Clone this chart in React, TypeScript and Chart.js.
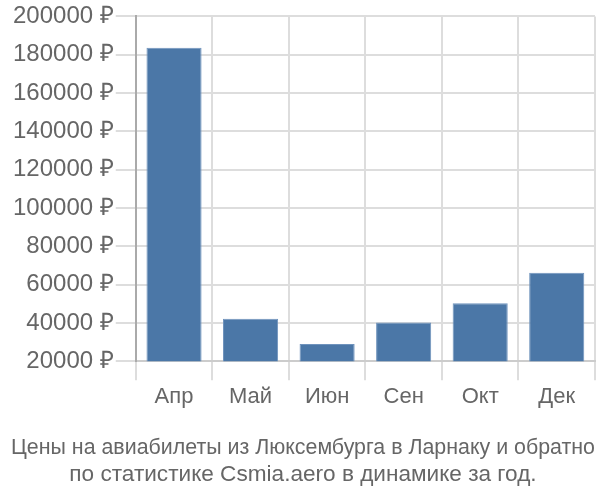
import React, { useEffect, useRef } from "react";
import { Chart, registerables } from "chart.js";

Chart.register(...registerables);

const categories = ["Апр", "Май", "Июн", "Сен", "Окт", "Дек"];
const prices = [183600, 42200, 29100, 40300, 50300, 66300];
const titleLines = [
  "Цены на авиабилеты из Люксембурга в Ларнаку и обратно",
  "по статистике Csmia.aero в динамике за год.",
];

export default function App() {
  const ref = useRef<HTMLCanvasElement>(null);
  useEffect(() => {
    const chart = new Chart(ref.current!, {
      type: "bar",
      data: {
        labels: categories,
        datasets: [
          {
            data: prices,
            backgroundColor: "#4b77a7",
            borderColor: "#6f93bd",
            borderWidth: 1,
          },
        ],
      },
      options: {
        animation: false,
        responsive: false,
        maintainAspectRatio: false,
        layout: { padding: { left: 11, right: 5, top: 3, bottom: 12 } },
        plugins: {
          legend: { display: false },
          tooltip: { enabled: false },
          title: {
            display: true,
            position: "bottom",
            text: titleLines,
            color: "#666",
            font: { family: "Liberation Sans", size: 22.6, weight: "normal" },
            padding: { top: 21, bottom: 0 },
            lineHeight: 1.2,
          },
        },
        scales: {
          x: {
            grid: { color: "#ddd", offset: true, tickLength: 19, lineWidth: 2 },
            border: { color: "#ccc", width: 2 },
            ticks: {
              color: "#666",
              font: { family: "Liberation Sans", size: 22 },
              padding: 3,
            },
          },
          y: {
            min: 20000,
            max: 200000,
            grid: { color: "#ddd", tickLength: 20, lineWidth: 2 },
            border: { color: "#aaa", width: 2 },
            ticks: {
              stepSize: 20000,
              color: "#666",
              font: { family: "Liberation Sans", size: 24 },
              padding: 2,
              callback: (v: any) => v + " ₽",
            },
          },
        },
      },
    });
    return () => chart.destroy();
  }, []);
  return (
    <div style={{ position: "absolute", left: 0, top: 0, width: 600, height: 500 }}>
      <canvas ref={ref} width={600} height={500} />
    </div>
  );
}
